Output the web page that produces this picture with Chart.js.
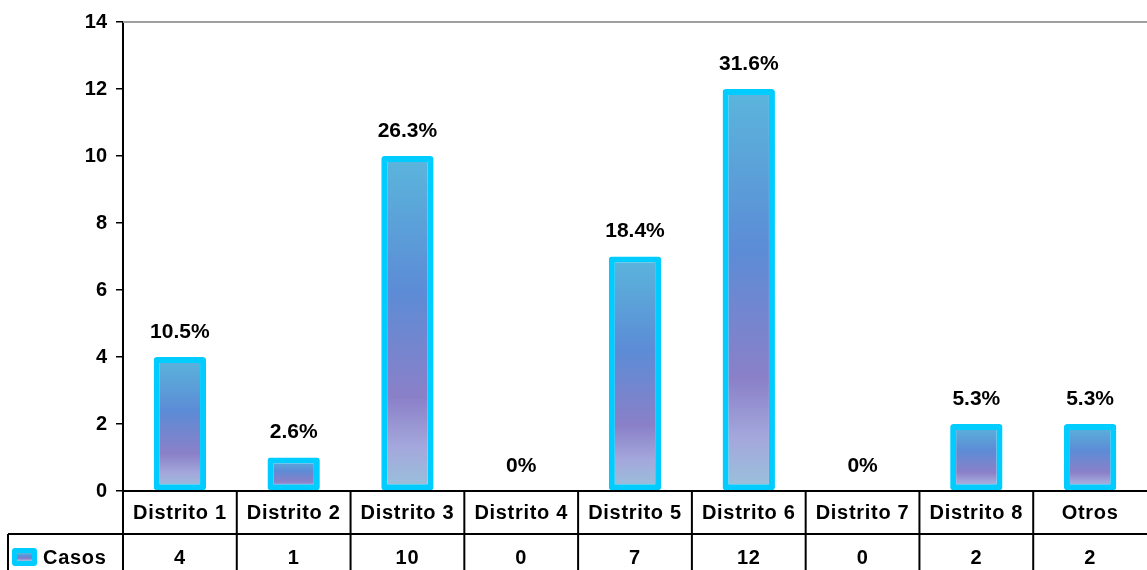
<!DOCTYPE html>
<html>
<head>
<meta charset="utf-8">
<script src="https://cdn.jsdelivr.net/npm/chart.js@4/dist/chart.umd.min.js"></script>
<style>
  html, body { margin: 0; padding: 0; background: #fff; }
  #wrap { width: 1147px; height: 570px; }
</style>
</head>
<body>
<div id="wrap"><canvas id="myChart" width="1147" height="570"></canvas></div>
<script>
const categories = ['Distrito 1', 'Distrito 2', 'Distrito 3', 'Distrito 4', 'Distrito 5', 'Distrito 6', 'Distrito 7', 'Distrito 8', 'Otros'];
const casos = [4, 1, 10, 0, 7, 12, 0, 2, 2];
const seriesName = 'Casos';
const yTicks = [0, 2, 4, 6, 8, 10, 12, 14];

const FONT = 'Liberation Sans, Arial, sans-serif';
const total = casos.reduce((a, b) => a + b, 0);

function pctLabel(v) {
    if (v === 0) return '0%';
    return (v / total * 100).toFixed(1) + '%';
}

// Gradiente de cada barra: azul arriba, violeta abajo
function barGradient(ctx, top, base) {
    const g = ctx.createLinearGradient(0, top, 0, base);
    g.addColorStop(0, '#5ab6dc');
    g.addColorStop(0.4, '#5c8cd6');
    g.addColorStop(0.72, '#8a80c8');
    g.addColorStop(0.87, '#a4a8dc');
    g.addColorStop(1, '#98c2da');
    return g;
}

// Línea gris superior del área de gráfico
const topLine = {
    id: 'topLine',
    beforeDatasetsDraw(chart) {
        const {ctx, chartArea} = chart;
        ctx.save();
        ctx.strokeStyle = '#a0a0a0';
        ctx.lineWidth = 2;
        ctx.beginPath();
        ctx.moveTo(chartArea.left, chartArea.top);
        ctx.lineTo(chartArea.right, chartArea.top);
        ctx.stroke();
        ctx.restore();
    }
};

// Porcentajes encima de las barras
const pctLabels = {
    id: 'pctLabels',
    afterDatasetsDraw(chart) {
        const {ctx, scales: {y}} = chart;
        const meta = chart.getDatasetMeta(0);
        ctx.save();
        ctx.font = 'bold 21px ' + FONT;
        ctx.fillStyle = '#000';
        ctx.textAlign = 'center';
        ctx.textBaseline = 'middle';
        meta.data.forEach((bar, i) => {
            const top = y.getPixelForValue(casos[i]);
            ctx.fillText(pctLabel(casos[i]), bar.x, top - 25);
        });
        ctx.restore();
    }
};

// Tabla de datos bajo el eje X
const dataTable = {
    id: 'dataTable',
    afterDraw(chart) {
        const {ctx, chartArea} = chart;
        const top = chartArea.bottom;
        const mid = top + 43;
        const bottom = chart.height + 2;
        const n = categories.length;
        const step = (chartArea.right - chartArea.left) / n;
        const legendLeft = 8;

        ctx.save();
        ctx.strokeStyle = '#000';
        ctx.lineWidth = 2;
        ctx.beginPath();
        // líneas horizontales
        ctx.moveTo(chartArea.left, top);
        ctx.lineTo(chartArea.right, top);
        ctx.moveTo(legendLeft, mid);
        ctx.lineTo(chartArea.right, mid);
        // líneas verticales
        for (let i = 0; i < n; i++) {
            const x = chartArea.left + i * step;
            ctx.moveTo(x, top);
            ctx.lineTo(x, bottom);
        }
        ctx.moveTo(legendLeft, mid);
        ctx.lineTo(legendLeft, bottom);
        ctx.stroke();

        ctx.fillStyle = '#000';
        ctx.textAlign = 'center';
        ctx.textBaseline = 'middle';
        ctx.font = 'bold 20px ' + FONT;
        ctx.letterSpacing = '0.7px';
        categories.forEach((c, i) => {
            const cx = chartArea.left + (i + 0.5) * step;
            ctx.fillText(c, cx, top + 22);
            ctx.fillText(String(casos[i]), cx, mid + 24);
        });

        // leyenda de la serie
        ctx.fillStyle = '#00ccff';
        ctx.beginPath();
        ctx.roundRect(12, 548, 25, 18, 3);
        ctx.fill();
        ctx.fillStyle = barGradient(ctx, 553, 561);
        ctx.fillRect(17, 553, 15, 8);
        ctx.fillStyle = '#000';
        ctx.textAlign = 'left';
        ctx.fillText(seriesName, 43, mid + 24);
        ctx.restore();
    }
};

const ctx = document.getElementById('myChart').getContext('2d');
const chartInstance = new Chart(ctx, {
    type: 'bar',
    data: {
        labels: categories,
        datasets: [{
            label: seriesName,
            data: casos,
            backgroundColor(c) {
                const chart = c.chart;
                if (!chart.chartArea || c.type !== 'data') return '#7a8ad0';
                const y = chart.scales.y;
                const top = y.getPixelForValue(c.raw);
                const base = y.getPixelForValue(0);
                if (base - top < 1) return 'rgba(0,0,0,0)';
                return barGradient(chart.ctx, top, base);
            },
            borderColor: '#00ccff',
            borderWidth: 6,
            borderSkipped: false,
            borderRadius: 3,
            barPercentage: 0.46,
            categoryPercentage: 1
        }]
    },
    options: {
        responsive: false,
        animation: false,
        devicePixelRatio: 1,
        layout: { padding: { top: 22, right: 0, bottom: 79, left: 0 } },
        plugins: {
            legend: { display: false },
            tooltip: { enabled: false }
        },
        scales: {
            x: { display: false },
            y: {
                min: 0,
                max: 14,
                afterFit(scale) { scale.width = 123; },
                afterBuildTicks(scale) { scale.ticks = yTicks.map(v => ({value: v})); },
                ticks: {
                    color: '#000',
                    padding: 9,
                    font: { family: FONT, size: 20, weight: 'bold' }
                },
                grid: {
                    drawOnChartArea: false,
                    color: '#000',
                    lineWidth: 1.5,
                    tickLength: 7
                },
                border: { color: '#000', width: 2 }
            }
        }
    },
    plugins: [topLine, pctLabels, dataTable]
});
</script>
</body>
</html>
